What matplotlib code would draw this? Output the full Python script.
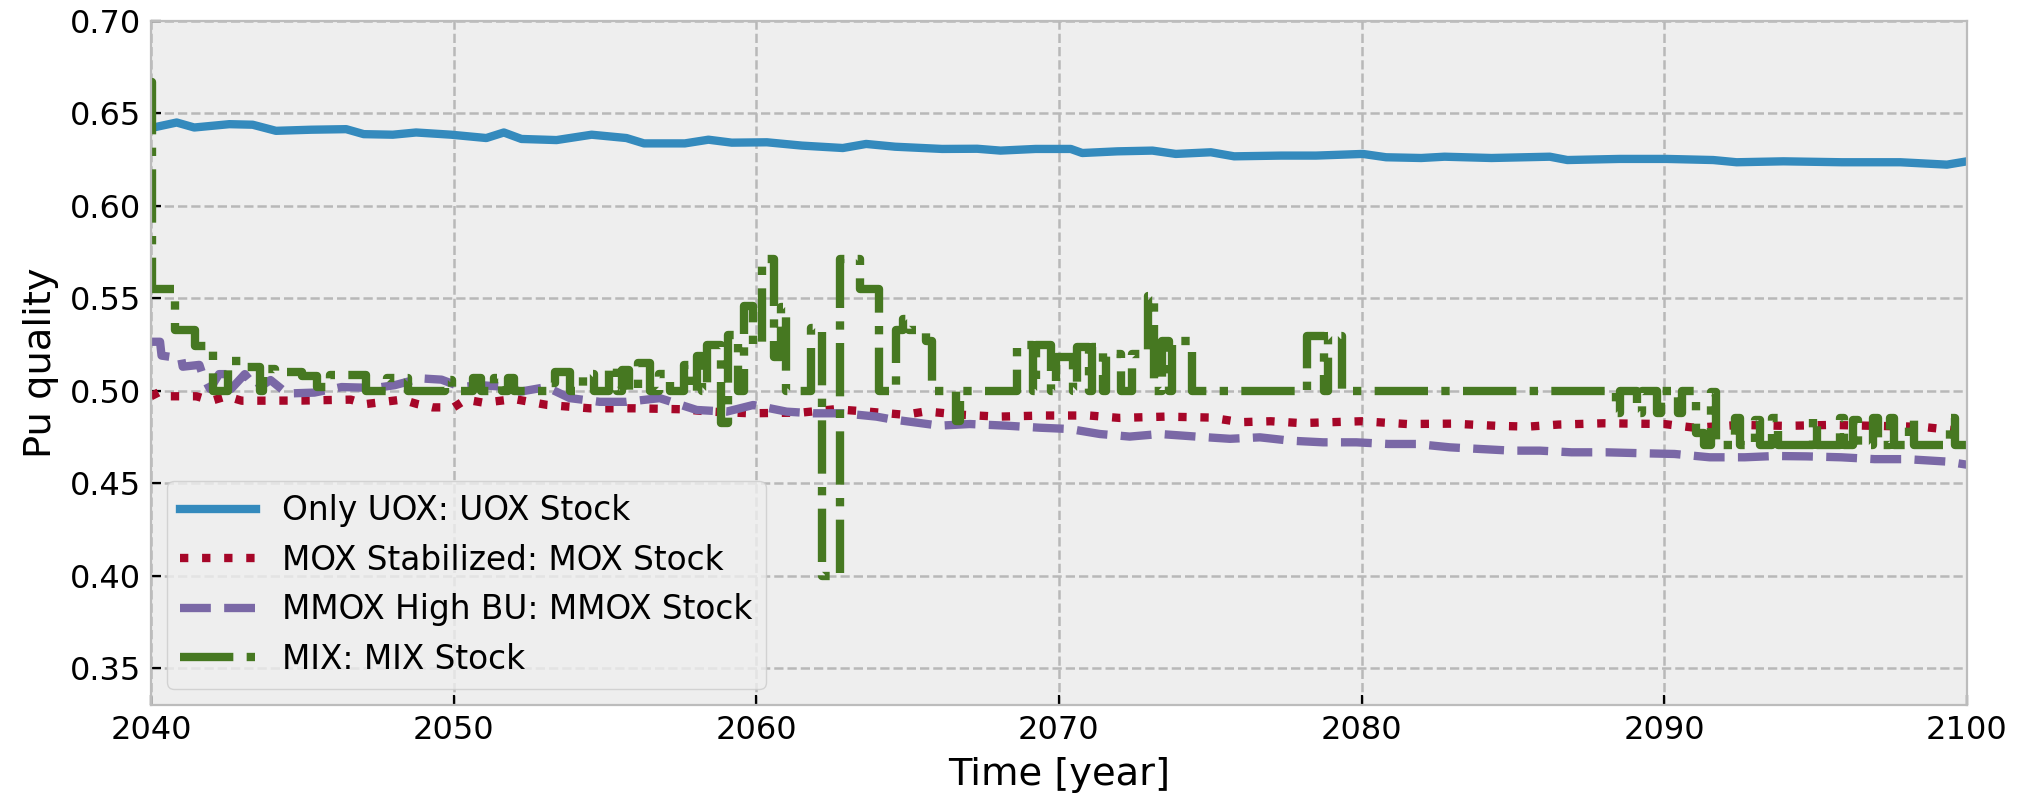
import matplotlib
matplotlib.use("Agg")
import matplotlib.pyplot as plt

# Only UOX: UOX Stock
uox_t = [2040.00, 2040.08, 2040.85, 2041.43, 2042.59, 2043.36, 2044.13, 2045.29, 2046.45, 2047.03,
         2047.99, 2048.76, 2049.92, 2051.08, 2051.66, 2052.24, 2053.40, 2054.56, 2055.71, 2056.29,
         2057.64, 2058.42, 2059.19, 2060.35, 2061.51, 2062.86, 2063.63, 2064.59, 2066.14, 2067.30,
         2068.07, 2069.23, 2070.39, 2070.77, 2071.93, 2073.09, 2073.86, 2075.02, 2075.79, 2077.34,
         2078.49, 2080.04, 2080.81, 2081.97, 2082.74, 2084.29, 2086.22, 2086.80, 2088.53, 2090.08,
         2091.62, 2092.39, 2093.94, 2095.87, 2097.80, 2099.34, 2100.00]
uox_q = [0.6424, 0.6424, 0.6451, 0.6424, 0.6442, 0.6439, 0.6406, 0.6412, 0.6415, 0.6388,
         0.6385, 0.6397, 0.6385, 0.6367, 0.6397, 0.6362, 0.6356, 0.6385, 0.6367, 0.6338,
         0.6338, 0.6358, 0.6342, 0.6344, 0.6326, 0.6313, 0.6335, 0.6320, 0.6308, 0.6309,
         0.6299, 0.6308, 0.6308, 0.6286, 0.6295, 0.6299, 0.6281, 0.6290, 0.6268, 0.6272,
         0.6272, 0.6281, 0.6263, 0.6259, 0.6266, 0.6259, 0.6266, 0.6248, 0.6254, 0.6254,
         0.6248, 0.6236, 0.6241, 0.6236, 0.6236, 0.6223, 0.6241]

# MOX Stabilized: MOX Stock
mox_t = [2040.0, 2040.3, 2040.6, 2041.5, 2042.0, 2042.5, 2043.0, 2045.0, 2046.6, 2047.1,
         2048.3, 2048.8, 2049.3, 2050.0, 2050.4, 2051.0, 2052.0, 2053.1, 2054.5, 2056.0,
         2057.5, 2058.5, 2059.8, 2061.5, 2062.6, 2063.7, 2064.9, 2065.6, 2066.8, 2068.0,
         2069.5, 2071.0, 2072.0, 2073.5, 2075.0, 2076.0, 2077.0, 2078.0, 2080.0, 2081.5,
         2083.0, 2084.5, 2085.5, 2086.5, 2088.0, 2089.0, 2090.0, 2091.0, 2092.5, 2094.0,
         2095.5, 2097.0, 2098.5, 2099.5, 2100.0]
mox_q = [0.4970, 0.4995, 0.4970, 0.4970, 0.4946, 0.4970, 0.4946, 0.4947, 0.4952, 0.4928,
         0.4952, 0.4928, 0.4910, 0.4910, 0.4952, 0.4935, 0.4955, 0.4923, 0.4905, 0.4905,
         0.4900, 0.4887, 0.4878, 0.4882, 0.4900, 0.4887, 0.4870, 0.4888, 0.4870, 0.4860,
         0.4866, 0.4866, 0.4853, 0.4860, 0.4855, 0.4830, 0.4835, 0.4825, 0.4835, 0.4820,
         0.4822, 0.4810, 0.4806, 0.4817, 0.4824, 0.4822, 0.4820, 0.4800, 0.4815, 0.4810,
         0.4815, 0.4810, 0.4805, 0.4788, 0.4795]

# MMOX High BU: MMOX Stock
mmox_t = [2040.00, 2040.30, 2040.35, 2041.00, 2041.05, 2041.60, 2041.70, 2041.95, 2042.25, 2042.60,
          2042.65, 2043.10, 2043.50, 2043.95, 2044.50, 2045.40, 2046.30, 2047.40, 2048.05, 2048.90,
          2049.60, 2050.25, 2050.90, 2051.80, 2052.20, 2053.07, 2053.84, 2054.83, 2055.71, 2056.81,
          2058.03, 2059.02, 2059.90, 2061.00, 2061.88, 2062.87, 2063.97, 2064.41, 2066.06, 2067.05,
          2068.27, 2069.37, 2070.36, 2071.35, 2072.34, 2073.33, 2074.54, 2075.65, 2076.64, 2077.63,
          2078.73, 2079.83, 2080.88, 2081.81, 2082.91, 2083.91, 2084.95, 2085.89, 2086.93, 2088.09,
          2089.24, 2090.34, 2091.50, 2092.66, 2093.65, 2094.70, 2095.85, 2096.95, 2098.00, 2099.32,
          2100.00]
mmox_q = [0.5265, 0.5265, 0.5190, 0.5175, 0.5130, 0.5140, 0.5090, 0.5010, 0.5090, 0.5090,
          0.5010, 0.5090, 0.5010, 0.5058, 0.4985, 0.4990, 0.5020, 0.5015, 0.5030, 0.5067,
          0.5060, 0.5020, 0.5030, 0.5020, 0.4995, 0.5020, 0.4960, 0.4940, 0.4940, 0.4960,
          0.4896, 0.4887, 0.4923, 0.4887, 0.4878, 0.4878, 0.4860, 0.4847, 0.4811, 0.4820,
          0.4811, 0.4800, 0.4793, 0.4766, 0.4752, 0.4766, 0.4752, 0.4740, 0.4748, 0.4730,
          0.4721, 0.4721, 0.4712, 0.4712, 0.4694, 0.4685, 0.4676, 0.4676, 0.4667, 0.4667,
          0.4662, 0.4658, 0.4640, 0.4640, 0.4647, 0.4645, 0.4640, 0.4630, 0.4630, 0.4617,
          0.4600]

# MIX: MIX Stock (stepwise)
mix_t = [2040.00, 2040.05, 2040.78, 2041.44, 2042.05, 2042.55, 2043.10, 2043.60, 2043.70, 2044.10,
         2045.00, 2045.50, 2045.90, 2047.10, 2047.80, 2048.50, 2049.70, 2049.95, 2050.65, 2050.90,
         2051.35, 2051.60, 2051.80, 2052.00, 2053.10, 2053.35, 2053.84, 2054.26, 2054.65, 2055.15,
         2055.40, 2055.55, 2055.80, 2056.10, 2056.48, 2056.80, 2057.14, 2057.60, 2057.80, 2058.03,
         2058.20, 2058.36, 2058.85, 2059.07, 2059.40, 2059.60, 2059.90, 2060.20, 2060.60, 2060.83,
         2060.98, 2061.82, 2062.16, 2062.77, 2063.43, 2064.04, 2064.63, 2064.85, 2065.05, 2065.60,
         2065.80, 2066.60, 2066.72, 2068.60, 2069.15, 2069.25, 2069.75, 2069.90, 2070.45, 2070.60,
         2071.00, 2071.10, 2071.45, 2071.55, 2072.05, 2072.40, 2072.95, 2073.15, 2073.40, 2073.65,
         2073.75, 2074.40, 2078.18, 2078.75, 2078.90, 2079.35, 2088.40, 2088.55, 2089.10, 2089.25,
         2089.75, 2089.90, 2090.45, 2090.60, 2091.06, 2091.30, 2091.55, 2091.70, 2092.35, 2092.50,
         2093.00, 2093.15, 2093.55, 2093.75, 2094.90, 2095.05, 2095.80, 2095.95, 2096.25, 2096.40,
         2096.90, 2097.05, 2097.45, 2097.60, 2098.10, 2098.25, 2099.45, 2099.60, 2100.00]
mix_q = [0.667, 0.555, 0.533, 0.524, 0.500, 0.516, 0.513, 0.500, 0.512, 0.510,
         0.508, 0.502, 0.5085, 0.500, 0.507, 0.500, 0.506, 0.500, 0.507, 0.500,
         0.507, 0.500, 0.507, 0.500, 0.504, 0.510, 0.500, 0.509, 0.500, 0.513,
         0.500, 0.511, 0.500, 0.515, 0.500, 0.509, 0.500, 0.514, 0.500, 0.519,
         0.500, 0.5245, 0.4824, 0.530, 0.500, 0.546, 0.525, 0.5715, 0.518, 0.5454,
         0.500, 0.534, 0.400, 0.5715, 0.555, 0.500, 0.533, 0.539, 0.533, 0.527,
         0.500, 0.4838, 0.500, 0.5245, 0.500, 0.5245, 0.500, 0.518, 0.500, 0.5234,
         0.500, 0.5234, 0.500, 0.520, 0.500, 0.520, 0.551, 0.500, 0.527, 0.500,
         0.527, 0.500, 0.5297, 0.500, 0.5297, 0.500, 0.4878, 0.500, 0.4878, 0.500,
         0.4878, 0.500, 0.4878, 0.500, 0.477, 0.4707, 0.4995, 0.4707, 0.485, 0.4707,
         0.4842, 0.4707, 0.485, 0.4707, 0.485, 0.4707, 0.485, 0.4707, 0.4842, 0.4707,
         0.485, 0.4707, 0.485, 0.4707, 0.4842, 0.4707, 0.485, 0.4707, 0.4707]

plt.style.use('bmh')
plt.rcParams['grid.linewidth'] = 0.9
plt.rcParams['grid.color'] = '#b8b8b8'

fig, ax = plt.subplots(figsize=(2029 / 200, 796 / 200), dpi=200)
fig.subplots_adjust(left=0.0744, right=0.9694, top=0.9736, bottom=0.1143)

lw = 3.0
ax.plot(uox_t, uox_q, '-', lw=lw, label='Only UOX: UOX Stock')
ax.plot(mox_t, mox_q, ':', lw=lw, label='MOX Stabilized: MOX Stock')
ax.plot(mmox_t, mmox_q, '--', lw=lw, label='MMOX High BU: MMOX Stock')
ax.plot(mix_t, mix_q, '-.', lw=lw, drawstyle='steps-post', label='MIX: MIX Stock')

ax.set_xlim(2040, 2100)
ax.set_ylim(0.33, 0.70)
ax.set_xticks(range(2040, 2101, 10))
ax.set_yticks([0.35, 0.40, 0.45, 0.50, 0.55, 0.60, 0.65, 0.70])
ax.yaxis.set_major_formatter(matplotlib.ticker.FormatStrFormatter('%.2f'))
ax.tick_params(labelsize=11.5)

ax.set_xlabel('Time [year]', fontsize=13.8)
ax.set_ylabel('Pu quality', fontsize=13.8)
ax.legend(loc='lower left', fontsize=11.8, handlelength=2.3)

plt.savefig('out.png', dpi=200)
